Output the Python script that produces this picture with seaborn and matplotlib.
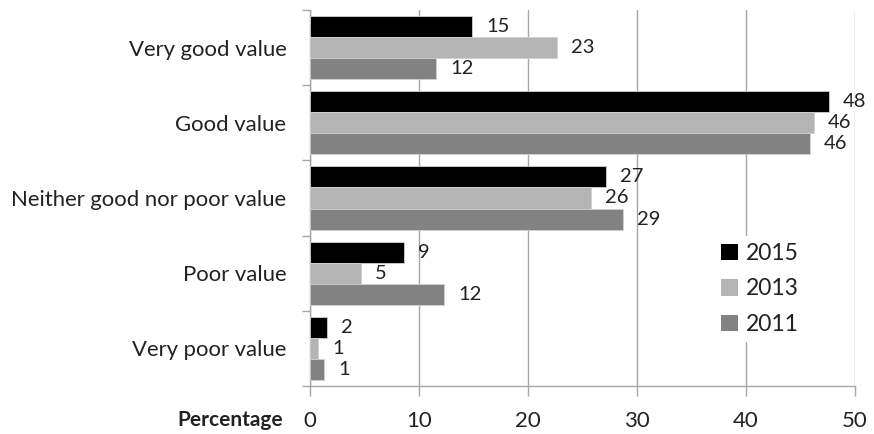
import numpy as np
import pandas as pd
import matplotlib
matplotlib.use("Agg")
import matplotlib.pyplot as plt
from matplotlib.patches import Patch
import seaborn as sns

# Survey responses: perceived value, percentage of respondents per year
categories = ["Very good value", "Good value", "Neither good nor poor value",
              "Poor value", "Very poor value"]
years = ["2015", "2013", "2011"]
values_2015 = [14.9, 47.6, 27.2, 8.65, 1.6]
values_2013 = [22.66, 46.2, 25.8, 4.65, 0.76]
values_2011 = [11.6, 45.9, 28.7, 12.3, 1.3]
x_ticks = [0, 10, 20, 30, 40, 50]
colors = ["#000000", "#b4b4b4", "#828282"]

df = pd.DataFrame({
    "category": categories * 3,
    "year": [y for y in years for _ in categories],
    "value": values_2015 + values_2013 + values_2011,
})

sns.set_style("white")
plt.rcParams["font.family"] = ["Lato", "DejaVu Sans"]

fig = plt.figure(figsize=(8.74, 4.34), dpi=100)
ax = fig.add_axes([310 / 874, 1 - 386 / 434, 545 / 874, 376 / 434])

sns.barplot(data=df, y="category", x="value", hue="year", hue_order=years,
            order=categories, palette=colors, orient="h", width=0.84,
            saturation=1, edgecolor="#d0d0d0", linewidth=0.6, ax=ax,
            legend=False, zorder=3)

axis_grey = "#a6a6a6"
text_col = "#222222"

ax.set_xlim(0, 50)
ax.set_ylim(4.5, -0.5)
ax.set_xticks(x_ticks)
ax.set_xticklabels([str(t) for t in x_ticks], fontsize=16, color=text_col)
ax.xaxis.grid(True, color=axis_grey, linewidth=1.0, zorder=0)
ax.set_axisbelow(True)
ax.tick_params(axis="x", direction="out", length=7, width=1, color=axis_grey, pad=11,
               bottom=True)
ax.set_xlabel("")
ax.set_ylabel("")

# category labels without marks, boundary ticks between groups
ax.tick_params(axis="y", which="major", length=0, pad=17, labelsize=15.9, labelcolor=text_col)
ax.set_yticks(np.arange(-0.5, 5.0, 1.0), minor=True)
ax.tick_params(axis="y", which="minor", direction="out", length=6, width=1,
               color=axis_grey, left=True)

for side in ["top", "right"]:
    ax.spines[side].set_visible(False)
for side in ["left", "bottom"]:
    ax.spines[side].set_color(axis_grey)
    ax.spines[side].set_linewidth(1.0)

for cont in ax.containers:
    vals = cont.datavalues
    ax.bar_label(cont, labels=[f"{round(v)}" for v in vals], padding=10,
                 fontsize=14.5, color=text_col)

handles = [Patch(facecolor=c, edgecolor="none", label=y) for y, c in zip(years, colors)]
leg = ax.legend(handles=handles, loc="center", bbox_to_anchor=(0.826, 0.258),
                frameon=True, facecolor="white", edgecolor="none", framealpha=1,
                fontsize=16.5, handlelength=0.72, handleheight=0.72, handletextpad=0.35,
                labelspacing=0.62, borderpad=0.3, labelcolor=text_col)
leg.set_zorder(5)

fig.text(283 / 874, 1 - 426 / 434, "Percentage", ha="right", va="baseline",
         fontsize=15, fontweight="bold", color=text_col)

fig.savefig("out.png", dpi=100)
